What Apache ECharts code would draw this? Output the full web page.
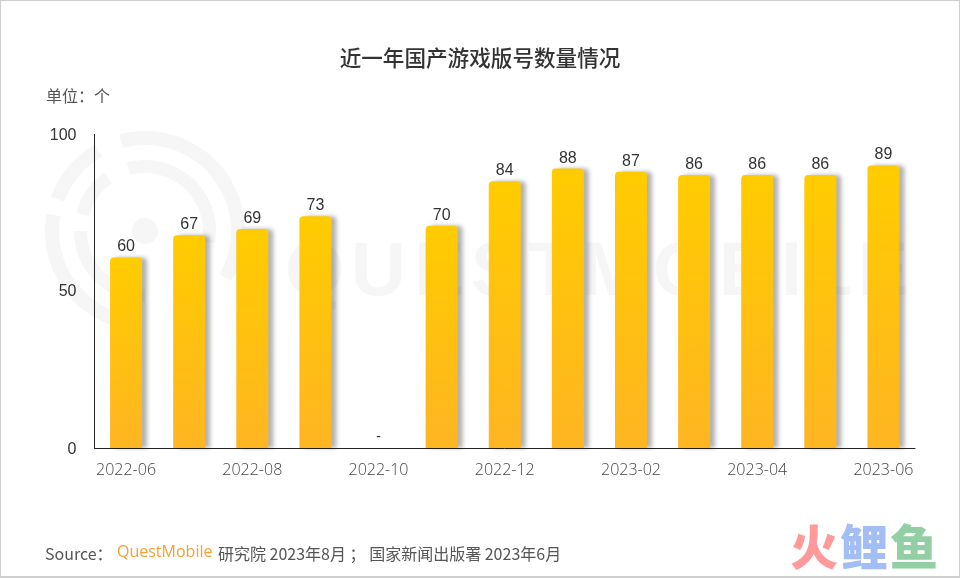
<!DOCTYPE html>
<html><head><meta charset="utf-8">
<style>html,body{margin:0;padding:0;background:#fff}#c{width:960px;height:578px}</style>
<script src="https://cdn.jsdelivr.net/npm/echarts@6/dist/echarts.min.js"></script>
</head><body><div id="c"></div>
<script>
const categories = ['2022-06','2022-07','2022-08','2022-09','2022-10','2022-11','2022-12','2023-01','2023-02','2023-03','2023-04','2023-05','2023-06'];
const values = [60,67,69,73,null,70,84,88,87,86,86,86,89];
const missing = [null,null,null,null,0,null,null,null,null,null,null,null,null];
const yTicks = {min:0,max:100,interval:50};
const titleText = '近一年国产游戏版号数量情况';
const unitText = '单位\uFF1A个';
const sourceLabel = 'Source\uFF1A';
const sourceBrand = 'QuestMobile';
const sourceRest = '研究院 2023年8月 \uFF1B 国家新闻出版署 2023年6月';
const wmLetters = ['Q','U','E','S','T','M','O','B','I','L','E'];
const wmAdvance = [66,63,57,57,53,72,66,62,25,52,50];

const CJK = '"Noto Sans CJK SC","Noto Sans",sans-serif';
const wmColor = '#f6f6f6';
const wc = {cx:145,cy:231};
function ring(r0,r,a0,a1){
  return {type:'sector',silent:true,z:-10,shape:{cx:wc.cx,cy:wc.cy,r0,r,startAngle:a0*Math.PI/180,endAngle:a1*Math.PI/180,clockwise:true},style:{fill:wmColor}};
}
const graphics = [
  {type:'rect',silent:true,z:-20,shape:{x:0,y:0,width:960,height:577},style:{fill:'#fff',stroke:'#cfcfcf',lineWidth:2}},
  ring(86,100,-105,30), ring(86,100,92,190), ring(86,100,200,240),
  ring(58,71,-105,10), ring(58,71,90,180), ring(58,71,195,235),
  {type:'circle',silent:true,z:-10,shape:{cx:wc.cx,cy:wc.cy,r:13},style:{fill:wmColor}},
  {type:'rect',silent:true,z:100,shape:{x:93,y:129,width:3,height:5},style:{fill:'#fff'}},
  {type:'text',left:46,top:88,style:{text:unitText,fontSize:16,fontFamily:CJK,fill:'#555'}},
  {type:'text',left:45,top:546,style:{text:sourceLabel,fontSize:16,fontFamily:CJK,fill:'#555'}},
  {type:'text',left:117,top:544,style:{text:sourceBrand,fontSize:16,fontFamily:'"Open Sans",sans-serif',fill:'#f5a133'}},
  {type:'text',left:218,top:546,style:{text:sourceRest,fontSize:16,fontFamily:CJK,fill:'#555'}},
  {type:'text',left:790,top:523,style:{text:'火',fontSize:48,fontWeight:900,fontFamily:CJK,fill:'#ff9a9a'}},
  {type:'text',left:840,top:523,style:{text:'鲤',fontSize:48,fontWeight:900,fontFamily:CJK,fill:'#a3bdf5'}},
  {type:'text',left:890,top:523,style:{text:'鱼',fontSize:48,fontWeight:900,fontFamily:CJK,fill:'#93cfa5'}}
];
let wx = 285;
wmLetters.forEach((ch,i)=>{
  graphics.push({type:'text',silent:true,z:-10,left:wx,top:236,style:{text:ch,fontSize:76,fontWeight:'bold',fontFamily:'"Liberation Sans",sans-serif',fill:wmColor}});
  wx += wmAdvance[i];
});

const chart = echarts.init(document.getElementById('c'),null,{renderer:'canvas'});
chart.setOption({
  animation:false,
  backgroundColor:'transparent',
  title:{text:titleText,left:'center',top:42,textStyle:{fontSize:21.6,fontWeight:500,fontFamily:CJK,color:'#333'}},
  grid:{left:94.5,right:45,top:130.5,bottom:130,containLabel:false},
  xAxis:{type:'category',data:categories,
    axisLine:{lineStyle:{color:'#222',width:1}},axisTick:{show:false},
    axisLabel:{interval:1,margin:14,fontSize:16,fontFamily:'"Open Sans",sans-serif',fontWeight:300,color:'#444'}},
  yAxis:{type:'value',min:yTicks.min,max:yTicks.max,interval:yTicks.interval,
    axisLine:{show:true,lineStyle:{color:'#222',width:1}},axisTick:{show:false},splitLine:{show:false},
    axisLabel:{margin:18,fontSize:16,fontFamily:'"Liberation Sans",Arial,sans-serif',color:'#333',
      formatter:v=>v===yTicks.max?'{top|'+v+'}':'{base|'+v+'}',
      rich:{top:{fontSize:16,padding:[11,0,0,0]},base:{fontSize:16,padding:[4,0,0,0]}}}},
  series:[
    {type:'bar',data:values,barWidth:32,
      itemStyle:{borderRadius:[4,4,0,0],shadowColor:'rgba(0,0,0,0.3)',shadowBlur:4,shadowOffsetX:5,shadowOffsetY:0,
        color:new echarts.graphic.LinearGradient(0,0,0,1,[{offset:0,color:'#ffcc00'},{offset:1,color:'#ffb522'}])},
      label:{show:true,position:'top',distance:2.5,fontSize:16,fontFamily:'"Liberation Sans",Arial,sans-serif',color:'#333'}},
    {type:'bar',data:missing,barWidth:32,barGap:'-100%',itemStyle:{color:'transparent'},
      label:{show:true,position:'top',distance:4,formatter:'-',fontSize:14,fontFamily:'"Liberation Sans",Arial,sans-serif',color:'#333'}}
  ],
  graphic:graphics
});
</script></body></html>
